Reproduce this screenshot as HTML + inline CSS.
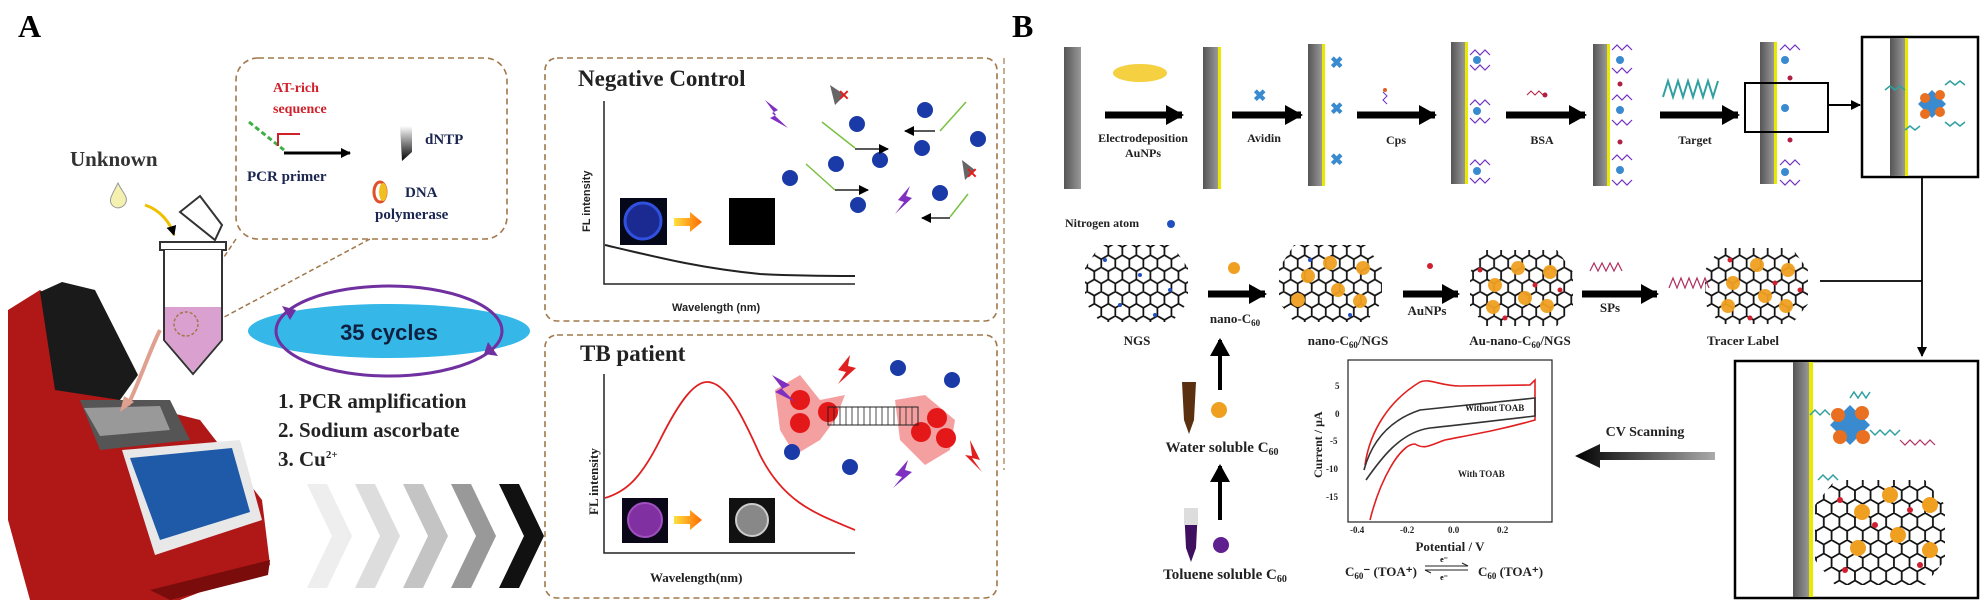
<!DOCTYPE html>
<html><head><meta charset="utf-8"><style>
html,body{margin:0;padding:0;background:#fff;}
svg{display:block;}
.s{font-family:"Liberation Serif",serif;font-weight:bold;}
.a{font-family:"Liberation Sans",sans-serif;font-weight:bold;}
</style></head><body>
<svg width="1982" height="603" viewBox="0 0 1982 603" xmlns="http://www.w3.org/2000/svg">
<defs>
<pattern id="hex" width="10.392" height="18" patternUnits="userSpaceOnUse" patternTransform="scale(1.35)">
<path d="M0,3 L5.196,0 L10.392,3 M0,3 L0,9 L5.196,12 L10.392,9 L10.392,3 M5.196,12 L5.196,18" fill="none" stroke="#111" stroke-width="1.3"/>
</pattern>
<pattern id="hex2" width="10.392" height="18" patternUnits="userSpaceOnUse" patternTransform="scale(1.5)">
<path d="M0,3 L5.196,0 L10.392,3 M0,3 L0,9 L5.196,12 L10.392,9 L10.392,3 M5.196,12 L5.196,18" fill="none" stroke="#111" stroke-width="1.2"/>
</pattern>
<linearGradient id="barh" x1="0" x2="1"><stop offset="0" stop-color="#555"/><stop offset="1" stop-color="#999"/></linearGradient>
<linearGradient id="arr" x1="0" x2="1"><stop offset="0" stop-color="#ffe040"/><stop offset="1" stop-color="#ff6a00"/></linearGradient>
<linearGradient id="dntp" x1="0" x2="0" y1="0" y2="1"><stop offset="0" stop-color="#fff"/><stop offset="1" stop-color="#000"/></linearGradient>
<linearGradient id="grayarr" x1="0" x2="1"><stop offset="0" stop-color="#000"/><stop offset="1" stop-color="#aaa"/></linearGradient>
<marker id="ah" markerUnits="userSpaceOnUse" markerWidth="10" markerHeight="10" refX="9" refY="5" orient="auto"><path d="M0,0 L10,5 L0,10z" fill="#000"/></marker>
<marker id="ahb" markerUnits="userSpaceOnUse" markerWidth="18" markerHeight="20" refX="16" refY="10" orient="auto"><path d="M0,0 L18,10 L0,20z" fill="#000"/></marker>
</defs>

<!-- ============ PANEL A ============ -->
<text x="18" y="37" class="s" font-size="32">A</text>
<rect x="236" y="58" width="271" height="181" rx="22" fill="none" stroke="#a0784a" stroke-width="1.6" stroke-dasharray="6,4"/>
<text x="273" y="92" class="s" font-size="14" fill="#d0202a">AT-rich</text>
<text x="273" y="113" class="s" font-size="14" fill="#d0202a">sequence</text>
<line x1="249" y1="122" x2="284" y2="150" stroke="#3cb043" stroke-width="3" stroke-dasharray="5,3"/>
<path d="M278,146 L278,134 L300,134" fill="none" stroke="#d0202a" stroke-width="2"/>
<line x1="284" y1="153" x2="350" y2="153" stroke="#000" stroke-width="3" marker-end="url(#ah)"/>
<text x="247" y="181" class="s" font-size="15" fill="#1a2550">PCR primer</text>
<path d="M400,126 L412,126 L412,152 L402,161z" fill="url(#dntp)"/>
<text x="425" y="144" class="s" font-size="15" fill="#1a2550">dNTP</text>
<ellipse cx="380" cy="192" rx="6" ry="10" fill="none" stroke="#e0502a" stroke-width="3"/>
<ellipse cx="383" cy="192" rx="4" ry="9" fill="#f0c020"/>
<text x="405" y="197" class="s" font-size="15" fill="#1a2550">DNA</text>
<text x="375" y="219" class="s" font-size="15" fill="#1a2550">polymerase</text>
<line x1="236" y1="239" x2="182" y2="320" stroke="#a0784a" stroke-width="1.5" stroke-dasharray="5,3"/>
<line x1="370" y1="239" x2="200" y2="330" stroke="#a0784a" stroke-width="1.5" stroke-dasharray="5,3"/>

<text x="70" y="166" class="s" font-size="21" fill="#333">Unknown</text>
<path d="M118,183 C112,195 108,200 112,205 C116,210 124,208 126,202 C128,196 122,192 118,183z" fill="#f4f0b0" stroke="#999"/>
<path d="M145,205 C160,210 170,222 174,235" fill="none" stroke="#f0c000" stroke-width="3" marker-end="url(#ah)"/>
<path d="M180,212 L200,196 L222,225 L215,240 Z" fill="none" stroke="#333" stroke-width="2"/>
<rect x="160" y="242" width="66" height="8" fill="#fff" stroke="#333" stroke-width="2"/>
<path d="M164,250 L164,340 L193,374 L222,340 L222,250" fill="#fff" stroke="#333" stroke-width="2"/>
<path d="M165,307 L221,307 L221,340 L193,372 L165,340 Z" fill="#d9a0d0"/>
<circle cx="186" cy="324" r="12" fill="none" stroke="#a0784a" stroke-width="1.5" stroke-dasharray="3,2"/>
<!-- PCR machine -->
<path d="M8,310 L40,290 L55,300 L120,400 L200,420 L262,500 L270,565 L180,600 L30,600 L8,520 Z" fill="#b01818"/>
<path d="M40,292 L62,282 L95,290 L138,375 L120,400 L55,390 Z" fill="#1a1a1a"/>
<path d="M80,400 L170,400 L190,440 L100,450 Z" fill="#555"/>
<path d="M84,408 L160,406 L170,430 L100,436 Z" fill="#999"/>
<path d="M122,450 L240,440 L262,520 L155,555 Z" fill="#e8e8e8"/>
<path d="M130,458 L232,448 L250,512 L160,540 Z" fill="#1e5aa8"/>
<path d="M150,590 L270,560 L268,575 L170,600 Z" fill="#7a0c0c"/>
<path d="M160,330 C150,350 140,380 128,405" fill="none" stroke="#e0a090" stroke-width="4"/>
<path d="M120,412 L124,396 L134,402Z" fill="#e0a090"/>

<ellipse cx="389" cy="331" rx="141" ry="27" fill="#35b8e8"/>
<ellipse cx="389" cy="331" rx="113" ry="45" fill="none" stroke="#7030a0" stroke-width="3"/>
<path d="M290,320 L282,306 L296,310z" fill="#7030a0"/>
<path d="M488,342 L498,356 L484,354z" fill="#7030a0"/>
<text x="389" y="340" class="a" font-size="22" text-anchor="middle" fill="#102040">35 cycles</text>
<text x="278" y="408" class="s" font-size="21" fill="#222">1. PCR amplification</text>
<text x="278" y="437" class="s" font-size="21" fill="#222">2. Sodium ascorbate</text>
<text x="278" y="466" class="s" font-size="21" fill="#222">3. Cu<tspan font-size="11" dy="-8">2+</tspan></text>
<g>
<path d="M307,484 L327,484 L352,536 L327,588 L307,588 L332,536Z" fill="#eee"/>
<path d="M355,484 L375,484 L400,536 L375,588 L355,588 L380,536Z" fill="#ddd"/>
<path d="M403,484 L423,484 L448,536 L423,588 L403,588 L428,536Z" fill="#c4c4c4"/>
<path d="M451,484 L471,484 L496,536 L471,588 L451,588 L476,536Z" fill="#999"/>
<path d="M499,484 L519,484 L544,536 L519,588 L499,588 L524,536Z" fill="#111"/>
</g>

<!-- Negative control box -->
<rect x="545" y="58" width="452" height="263" rx="12" fill="none" stroke="#a0784a" stroke-width="1.6" stroke-dasharray="6,4"/>
<text x="578" y="86" class="s" font-size="23" fill="#222">Negative Control</text>
<path d="M604,101 L604,284 L855,284" fill="none" stroke="#222" stroke-width="1.5"/>
<text transform="translate(590,232) rotate(-90)" class="a" font-size="11" fill="#222">FL intensity</text>
<text x="672" y="311" class="a" font-size="11" fill="#222">Wavelength (nm)</text>
<path d="M605,245 C660,258 700,268 760,274 C800,276 830,276 855,276" fill="none" stroke="#222" stroke-width="2"/>
<rect x="620" y="198" width="47" height="47" fill="#050818"/>
<circle cx="643" cy="221" r="18" fill="#1a2a90" stroke="#3050e0" stroke-width="3"/>
<path d="M674,218 L690,218 L690,212 L702,222 L690,232 L690,226 L674,226Z" fill="url(#arr)"/>
<rect x="729" y="198" width="46" height="47" fill="#000"/>
<g fill="#1a3aa8">
<circle cx="857" cy="124" r="8"/><circle cx="925" cy="110" r="8"/><circle cx="978" cy="139" r="8"/><circle cx="922" cy="148" r="8"/>
<circle cx="836" cy="164" r="8"/><circle cx="880" cy="160" r="8"/><circle cx="790" cy="178" r="8"/><circle cx="858" cy="205" r="8"/><circle cx="940" cy="193" r="8"/>
</g>
<g stroke="#7ac040" stroke-width="1.5" fill="none">
<path d="M822,122 L855,148"/><path d="M940,131 L966,102"/><path d="M806,164 L835,190"/><path d="M950,217 L968,194"/>
</g>
<g stroke="#222" stroke-width="1.5" marker-end="url(#ah)"><line x1="855" y1="149" x2="888" y2="149"/><line x1="935" y1="131" x2="905" y2="131"/><line x1="835" y1="190" x2="868" y2="190"/><line x1="950" y1="218" x2="922" y2="218"/></g>
<path d="M765,100 L778,110 L772,113 L788,128 L770,118 L776,115Z" fill="#8030c0"/>
<path d="M910,186 L898,200 L904,202 L895,214 L912,198 L906,196Z" fill="#8030c0"/>
<path d="M830,85 L845,95 L835,105Z" fill="#666"/><text x="838" y="100" font-size="14" fill="#e02020" class="a">✕</text>
<path d="M962,160 L975,170 L965,180Z" fill="#666"/><text x="966" y="178" font-size="14" fill="#e02020" class="a">✕</text>

<!-- TB patient box -->
<rect x="545" y="335" width="452" height="263" rx="12" fill="none" stroke="#a0784a" stroke-width="1.6" stroke-dasharray="6,4"/>
<text x="580" y="361" class="s" font-size="23" fill="#222">TB patient</text>
<path d="M604,374 L604,553 L855,553" fill="none" stroke="#222" stroke-width="1.5"/>
<text transform="translate(598,515) rotate(-90)" class="s" font-size="13" fill="#222">FL intensity</text>
<text x="650" y="582" class="s" font-size="13" fill="#222">Wavelength(nm)</text>
<path d="M605,498 C625,492 640,480 660,440 C680,400 695,381 708,382 C725,383 740,410 760,455 C785,505 820,515 855,530" fill="none" stroke="#e02020" stroke-width="1.8"/>
<rect x="622" y="498" width="46" height="45" fill="#0a0818"/>
<circle cx="645" cy="520" r="17" fill="#8030a0" stroke="#a050c0" stroke-width="2"/>
<path d="M674,516 L690,516 L690,510 L702,520 L690,530 L690,524 L674,524Z" fill="url(#arr)"/>
<rect x="729" y="498" width="46" height="45" fill="#111"/>
<circle cx="752" cy="520" r="16" fill="#888" stroke="#ccc" stroke-width="2"/>
<g fill="#f5a0a0"><path d="M775,390 L800,375 L820,400 L845,395 L835,420 L820,440 L795,455 L780,430Z"/><path d="M895,400 L925,395 L955,420 L950,450 L925,465 L900,440Z"/></g>
<g fill="#e41818"><circle cx="800" cy="400" r="10"/><circle cx="828" cy="412" r="10"/><circle cx="800" cy="423" r="10"/><circle cx="937" cy="418" r="10"/><circle cx="921" cy="432" r="10"/><circle cx="946" cy="438" r="10"/></g>
<rect x="828" y="407" width="90" height="18" fill="none" stroke="#222" stroke-width="1"/>
<path d="M834,407 v18 M840,407 v18 M846,407 v18 M852,407 v18 M858,407 v18 M864,407 v18 M870,407 v18 M876,407 v18 M882,407 v18 M888,407 v18 M894,407 v18 M900,407 v18 M906,407 v18 M912,407 v18" stroke="#222" stroke-width="0.8"/>
<g fill="#1a3aa8"><circle cx="898" cy="368" r="8"/><circle cx="952" cy="380" r="8"/><circle cx="792" cy="452" r="8"/><circle cx="850" cy="467" r="8"/></g>
<path d="M772,375 L790,385 L782,389 L795,402 L775,392 L782,388Z" fill="#8030c0"/>
<path d="M908,460 L895,475 L902,477 L893,488 L912,472 L905,470Z" fill="#8030c0"/>
<path d="M850,355 L838,370 L846,372 L838,384 L856,368 L848,366Z" fill="#e02020"/>
<path d="M970,440 L980,460 L972,458 L982,472 L965,455 L972,456Z" fill="#e02020"/>

<!-- ============ PANEL B ============ -->
<text x="1012" y="37" class="s" font-size="32">B</text>
<line x1="1004" y1="58" x2="1004" y2="470" stroke="#a0784a" stroke-width="1.2" stroke-dasharray="6,4"/>
<rect x="1064" y="47" width="17" height="142" fill="url(#barh)"/>
<g>
<rect x="1203" y="47" width="15" height="142" fill="url(#barh)"/><rect x="1218" y="47" width="3" height="142" fill="#e8e800"/>
<rect x="1308" y="44" width="14" height="142" fill="url(#barh)"/><rect x="1322" y="44" width="3" height="142" fill="#e8e800"/>
<rect x="1451" y="42" width="14" height="142" fill="url(#barh)"/><rect x="1465" y="42" width="3" height="142" fill="#e8e800"/>
<rect x="1593" y="44" width="14" height="142" fill="url(#barh)"/><rect x="1607" y="44" width="3" height="142" fill="#e8e800"/>
<rect x="1760" y="42" width="14" height="142" fill="url(#barh)"/><rect x="1774" y="42" width="3" height="142" fill="#e8e800"/>
</g>
<ellipse cx="1140" cy="73" rx="27" ry="9" fill="#f5d040"/>
<g fill="#3a8ad0" font-family="Liberation Sans" font-weight="bold" font-size="16">
<text x="1253" y="101">✖</text><text x="1330" y="68">✖</text><text x="1330" y="114">✖</text><text x="1330" y="165">✖</text>
</g>
<g stroke="#7030c0" stroke-width="1.2" fill="none">
<path d="M1470,55 l5,-5 l5,5 l5,-5 l5,5 M1470,65 l5,5 l5,-5 l5,5 l5,-5 M1470,105 l5,-5 l5,5 l5,-5 l5,5 M1470,118 l5,5 l5,-5 l5,5 l5,-5 M1470,165 l5,-5 l5,5 l5,-5 l5,5 M1470,178 l5,5 l5,-5 l5,5 l5,-5"/>
<path d="M1612,50 l5,-5 l5,5 l5,-5 l5,5 M1612,68 l5,5 l5,-5 l5,5 l5,-5 M1612,100 l5,-5 l5,5 l5,-5 l5,5 M1612,120 l5,5 l5,-5 l5,5 l5,-5 M1612,160 l5,-5 l5,5 l5,-5 l5,5 M1612,180 l5,5 l5,-5 l5,5 l5,-5"/>
<path d="M1780,50 l5,-5 l5,5 l5,-5 l5,5 M1780,165 l5,-5 l5,5 l5,-5 l5,5 M1780,180 l5,5 l5,-5 l5,5 l5,-5"/>
</g>
<g fill="#3a8ad0"><circle cx="1477" cy="60" r="4"/><circle cx="1477" cy="111" r="4"/><circle cx="1477" cy="171" r="4"/><circle cx="1620" cy="60" r="4"/><circle cx="1620" cy="110" r="4"/><circle cx="1620" cy="170" r="4"/><circle cx="1785" cy="60" r="4"/><circle cx="1785" cy="108" r="4"/><circle cx="1785" cy="172" r="4"/></g>
<g fill="#b02040"><circle cx="1620" cy="84" r="2.5"/><circle cx="1620" cy="142" r="2.5"/><circle cx="1790" cy="78" r="2.5"/><circle cx="1790" cy="140" r="2.5"/><circle cx="1545" cy="95" r="2.5"/></g>
<path d="M1383,92 l4,4 l-4,4 l4,4" stroke="#7030c0" fill="none"/><circle cx="1385" cy="90" r="2" fill="#e06020"/>
<path d="M1527,95 l4,-4 l4,4 l4,-4 l4,4" stroke="#b02040" fill="none"/>
<path d="M1663,97 l5,-16 l5,16 l5,-16 l5,16 l5,-16 l5,16 l5,-16 l5,16 l5,-16 l5,16 l5,-16" stroke="#30a0a0" stroke-width="2" fill="none"/>
<g stroke="#000" stroke-width="7" marker-end="url(#ahb)">
<line x1="1105" y1="115" x2="1182" y2="115"/><line x1="1232" y1="115" x2="1301" y2="115"/><line x1="1357" y1="115" x2="1435" y2="115"/><line x1="1506" y1="115" x2="1585" y2="115"/><line x1="1660" y1="115" x2="1738" y2="115"/>
</g>
<g class="s" font-size="12" fill="#222" text-anchor="middle">
<text x="1143" y="142">Electrodeposition</text><text x="1143" y="157">AuNPs</text>
<text x="1264" y="142">Avidin</text><text x="1396" y="144">Cps</text><text x="1542" y="144">BSA</text><text x="1695" y="144">Target</text>
</g>
<rect x="1745" y="83" width="83" height="49" fill="none" stroke="#000" stroke-width="2"/>
<line x1="1828" y1="105" x2="1860" y2="105" stroke="#000" stroke-width="2" marker-end="url(#ah)"/>
<rect x="1862" y="37" width="116" height="140" fill="#fff" stroke="#000" stroke-width="2.5"/>
<rect x="1890" y="38" width="15" height="138" fill="url(#barh)"/><rect x="1905" y="38" width="3" height="138" fill="#e8e800"/>
<path d="M1918,104 L1932,90 L1946,104 L1932,118Z" fill="#3a8ad0"/>
<g fill="#e87020"><circle cx="1925" cy="98" r="5"/><circle cx="1940" cy="95" r="5"/><circle cx="1940" cy="112" r="5"/><circle cx="1925" cy="114" r="5"/></g>
<path d="M1885,90 l5,-4 l5,4 l5,-4 l5,4 M1945,85 l5,-4 l5,4 l5,-4 l5,4 M1945,122 l5,4 l5,-4 l5,4 l5,-4 M1905,130 l5,-4 l5,4 l5,-4" stroke="#30a0a0" stroke-width="1.5" fill="none"/>
<line x1="1922" y1="177" x2="1922" y2="356" stroke="#000" stroke-width="1.8" marker-end="url(#ah)"/>
<line x1="1820" y1="281" x2="1922" y2="281" stroke="#000" stroke-width="1.8"/>

<text x="1065" y="227" class="s" font-size="12" fill="#222">Nitrogen atom</text>
<circle cx="1171" cy="224" r="4" fill="#2050c0"/>
<g>
<polygon points="1100,245 1172,245 1188,268 1188,302 1172,322 1100,322 1085,302 1085,268" fill="url(#hex)"/>
<polygon points="1294,245 1366,245 1382,268 1382,302 1366,322 1294,322 1279,302 1279,268" fill="url(#hex)"/>
<polygon points="1485,250 1557,250 1573,272 1573,306 1557,326 1485,326 1470,306 1470,272" fill="url(#hex)"/>
<polygon points="1720,248 1792,248 1808,270 1808,304 1792,324 1720,324 1705,304 1705,270" fill="url(#hex)"/>
</g>
<g fill="#f0a020" opacity="0.95">
<circle cx="1330" cy="263" r="7"/><circle cx="1363" cy="268" r="7"/><circle cx="1308" cy="276" r="7"/><circle cx="1338" cy="290" r="7"/><circle cx="1298" cy="300" r="7"/><circle cx="1360" cy="301" r="7"/>
<circle cx="1518" cy="268" r="7"/><circle cx="1550" cy="272" r="7"/><circle cx="1495" cy="285" r="7"/><circle cx="1525" cy="298" r="7"/><circle cx="1493" cy="307" r="7"/><circle cx="1547" cy="306" r="7"/>
<circle cx="1757" cy="265" r="7"/><circle cx="1788" cy="270" r="7"/><circle cx="1733" cy="283" r="7"/><circle cx="1765" cy="296" r="7"/><circle cx="1728" cy="306" r="7"/><circle cx="1786" cy="306" r="7"/>
</g>
<g fill="#d02030"><circle cx="1480" cy="270" r="2.5"/><circle cx="1535" cy="285" r="2.5"/><circle cx="1505" cy="318" r="2.5"/><circle cx="1560" cy="290" r="2.5"/><circle cx="1730" cy="260" r="2.5"/><circle cx="1775" cy="283" r="2.5"/><circle cx="1750" cy="318" r="2.5"/><circle cx="1800" cy="290" r="2.5"/></g>
<g fill="#2050c0"><circle cx="1105" cy="260" r="2"/><circle cx="1140" cy="275" r="2"/><circle cx="1170" cy="290" r="2"/><circle cx="1120" cy="305" r="2"/><circle cx="1155" cy="315" r="2"/><circle cx="1310" cy="260" r="2"/><circle cx="1350" cy="315" r="2"/></g>
<circle cx="1234" cy="268" r="6" fill="#f0a020"/>
<circle cx="1430" cy="266" r="3" fill="#d02030"/>
<path d="M1590,271 l4,-8 l4,8 l4,-8 l4,8 l4,-8 l4,8 l4,-8 l4,8" stroke="#b03060" stroke-width="1.2" fill="none"/>
<path d="M1669,288 l4,-10 l4,10 l4,-10 l4,10 l4,-10 l4,10 l4,-10 l4,10 l4,-10 l4,10" stroke="#b03060" stroke-width="1.2" fill="none"/>
<g stroke="#000" stroke-width="7" marker-end="url(#ahb)">
<line x1="1208" y1="294" x2="1265" y2="294"/><line x1="1403" y1="294" x2="1458" y2="294"/><line x1="1582" y1="294" x2="1657" y2="294"/>
</g>
<g class="s" font-size="13" fill="#222" text-anchor="middle">
<text x="1235" y="323">nano-C<tspan font-size="9" dy="3">60</tspan></text>
<text x="1427" y="315">AuNPs</text><text x="1610" y="312">SPs</text>
<text x="1137" y="345">NGS</text>
<text x="1348" y="345">nano-C<tspan font-size="9" dy="3">60</tspan><tspan dy="-3">/NGS</tspan></text>
<text x="1520" y="345">Au-nano-C<tspan font-size="9" dy="3">60</tspan><tspan dy="-3">/NGS</tspan></text>
<text x="1743" y="345">Tracer Label</text>
</g>
<line x1="1220" y1="390" x2="1220" y2="340" stroke="#000" stroke-width="4" marker-end="url(#ahb)"/>
<line x1="1220" y1="520" x2="1220" y2="466" stroke="#000" stroke-width="4" marker-end="url(#ahb)"/>
<path d="M1182,382 L1196,382 L1194,420 L1189,434 L1184,420Z" fill="#5a3010"/>
<circle cx="1219" cy="410" r="8" fill="#f0a020"/>
<text x="1222" y="452" class="s" font-size="15" fill="#222" text-anchor="middle">Water soluble C<tspan font-size="10" dy="3">60</tspan></text>
<path d="M1184,508 L1198,508 L1196,548 L1191,562 L1186,548Z" fill="#401060"/>
<path d="M1184,508 L1198,508 L1198,525 L1184,525Z" fill="#ddd"/>
<circle cx="1221" cy="545" r="8" fill="#602090"/>
<text x="1225" y="579" class="s" font-size="15" fill="#222" text-anchor="middle">Toluene soluble C<tspan font-size="10" dy="3">60</tspan></text>
<rect x="1348" y="360" width="204" height="162" fill="#fff" stroke="#222" stroke-width="1.2"/>
<path d="M1365,465 C1370,430 1390,400 1420,382 C1430,378 1440,386 1460,386 L1530,385 L1535,380 L1535,420 C1500,430 1470,435 1445,440 C1430,445 1425,450 1415,444 C1400,444 1380,480 1370,520" fill="none" stroke="#e02020" stroke-width="1.6"/>
<path d="M1364,470 C1372,440 1390,420 1420,410 L1535,398 L1535,416 C1500,420 1460,425 1430,428 C1400,432 1380,460 1366,480" fill="none" stroke="#333" stroke-width="1.6"/>
<g class="s" font-size="9" fill="#222">
<text x="1465" y="411">Without TOAB</text><text x="1458" y="477">With TOAB</text>
<text x="1335" y="389">5</text><text x="1335" y="417">0</text><text x="1330" y="444">-5</text><text x="1326" y="472">-10</text><text x="1326" y="500">-15</text>
<text x="1350" y="533">-0.4</text><text x="1400" y="533">-0.2</text><text x="1448" y="533">0.0</text><text x="1497" y="533">0.2</text>
</g>
<text transform="translate(1322,478) rotate(-90)" class="s" font-size="12" fill="#222">Current / μA</text>
<text x="1450" y="551" class="s" font-size="13" fill="#222" text-anchor="middle">Potential / V</text>
<text x="1345" y="576" class="s" font-size="13" fill="#222">C<tspan font-size="9" dy="3">60</tspan><tspan dy="-3">⁻ (TOA⁺)</tspan></text>
<path d="M1425,566 L1468,566 L1462,563 M1468,570 L1425,570 L1431,573" stroke="#222" stroke-width="1" fill="none"/>
<text x="1444" y="562" class="s" font-size="8" text-anchor="middle">e⁻</text><text x="1444" y="580" class="s" font-size="8" text-anchor="middle">e⁻</text>
<text x="1478" y="576" class="s" font-size="13" fill="#222">C<tspan font-size="9" dy="3">60</tspan><tspan dy="-3"> (TOA⁺)</tspan></text>
<text x="1645" y="436" class="s" font-size="14" fill="#222" text-anchor="middle">CV Scanning</text>
<path d="M1715,452 L1600,452 L1600,444 L1575,456 L1600,468 L1600,460 L1715,460Z" fill="url(#grayarr)"/>
<rect x="1735" y="361" width="243" height="237" fill="#fff" stroke="#000" stroke-width="2.5"/>
<rect x="1793" y="362" width="16" height="235" fill="url(#barh)"/><rect x="1809" y="362" width="4" height="235" fill="#e8e800"/>
<path d="M1830,425 L1850,405 L1870,425 L1850,445Z" fill="#3a8ad0"/>
<g fill="#e87020"><circle cx="1838" cy="415" r="7"/><circle cx="1862" cy="413" r="7"/><circle cx="1840" cy="437" r="7"/><circle cx="1863" cy="437" r="7"/></g>
<path d="M1810,415 l5,-5 l5,5 l5,-5 l5,5 M1850,398 l4,-6 l4,6 l4,-6 l4,6 l4,-6 M1870,430 l5,5 l5,-5 l5,5 l5,-5 l5,5 l5,-5 M1818,480 l5,-5 l5,5 l5,-5 l5,5" stroke="#30a0a0" stroke-width="1.5" fill="none"/>
<path d="M1900,440 l5,5 l5,-5 l5,5 l5,-5 l5,5 l5,-5 l5,5" stroke="#b03060" stroke-width="1.2" fill="none"/>
<polygon points="1835,480 1925,480 1945,505 1945,560 1925,585 1835,585 1815,560 1815,505" fill="url(#hex2)"/>
<g fill="#f0a020"><circle cx="1890" cy="495" r="8"/><circle cx="1930" cy="505" r="8"/><circle cx="1862" cy="512" r="8"/><circle cx="1898" cy="535" r="8"/><circle cx="1858" cy="548" r="8"/><circle cx="1930" cy="550" r="8"/></g>
<g fill="#d02030"><circle cx="1840" cy="500" r="3"/><circle cx="1875" cy="525" r="3"/><circle cx="1910" cy="510" r="3"/><circle cx="1920" cy="565" r="3"/><circle cx="1845" cy="570" r="3"/></g>
</svg>
</body></html>
